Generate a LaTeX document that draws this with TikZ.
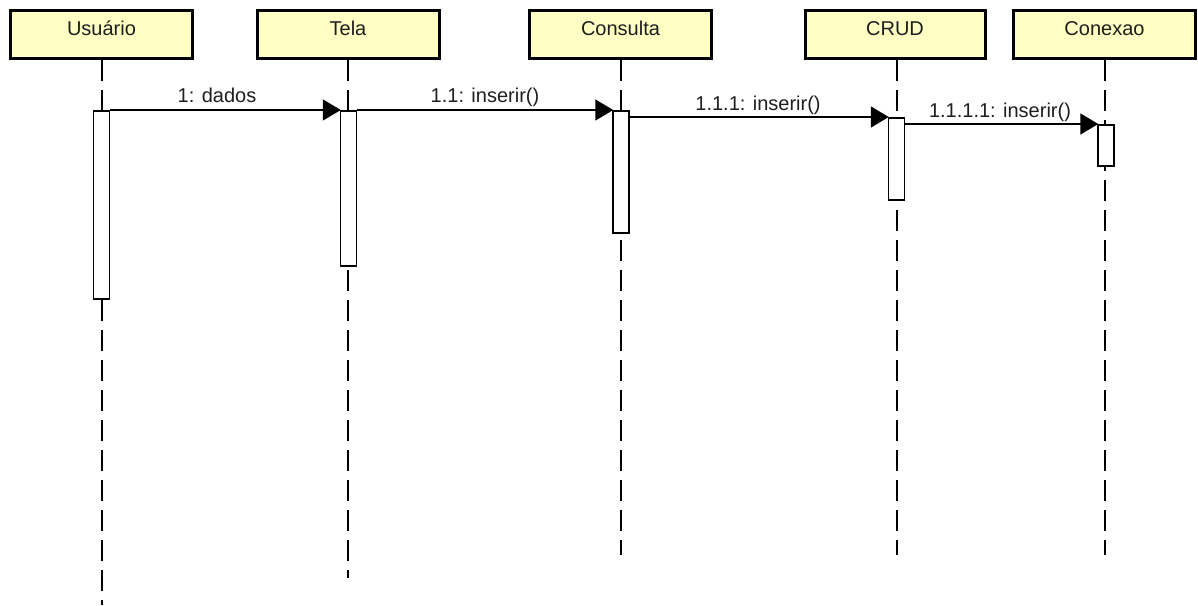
\documentclass[tikz,border=0pt]{standalone}
\usepackage{fontspec}
\setmainfont{Liberation Sans}
\usetikzlibrary{arrows.meta}
\definecolor{hdrfill}{RGB}{255,255,196}
\definecolor{txt}{RGB}{30,30,30}
\tikzset{
  hdr/.style={draw=black, line width=3pt, fill=hdrfill, minimum width=182pt, minimum height=48pt, inner sep=0pt, anchor=north},
  hdrtext/.style={font=\fontsize{20}{23}\selectfont, text=txt, anchor=base, inner sep=0pt},
  life/.style={line width=1.5pt, dash pattern=on 21pt off 9pt},
  act/.style={draw=black, line width=1.5pt, fill=white, minimum width=16pt, inner sep=0pt, anchor=north},
  msg/.style={line width=1.5pt, -{Triangle[length=18pt,width=21pt]}, shorten >=-1pt},
  msgtext/.style={font=\fontsize{20}{23}\selectfont, text=txt, anchor=base, inner sep=0pt}
}
\begin{document}
\begin{tikzpicture}[x=1pt,y=-1pt]
\useasboundingbox (0,0) rectangle (1198,605);
% header boxes
\node[hdr] (hU) at (101.5,9) {};
\node[hdr] (hT) at (348,9) {};
\node[hdr] (hC) at (620.5,9) {};
\node[hdr, minimum width=180pt] (hR) at (895,9) {};
\node[hdr] (hX) at (1104.5,9) {};
\node[hdrtext] (tU) at (101.5,35) {Usuário};
\node[hdrtext] (tT) at (348,35) {Tela};
\node[hdrtext] (tC) at (620.5,35) {Consulta};
\node[hdrtext] (tR) at (895,35) {CRUD};
\node[hdrtext] (tX) at (1104.5,35) {Conexao};
% lifeline ends
\coordinate (eU) at (102,605);
\coordinate (eT) at (348,578);
\coordinate (eC) at (621,555);
\coordinate (eR) at (897,555);
\coordinate (eX) at (1105,555);
\draw[life] (hU.south -| eU) -- (eU);
\draw[life] (hT.south -| eT) -- (eT);
\draw[life] (hC.south -| eC) -- (eC);
\draw[life] (hR.south -| eR) -- (eR);
\draw[life] (hX.south -| eX) -- (eX);
% activations
\node[act, minimum height=188pt] (aU) at (101.5,110) {};
\node[act, minimum height=155pt] (aT) at (348.5,110) {};
\node[act, minimum height=122pt] (aC) at (621,110) {};
\node[act, minimum height=82pt] (aR) at (896.5,117) {};
\node[act, minimum height=41pt] (aX) at (1106,124) {};
% messages
\draw[msg] (aU.north east) -- (aT.north west);
\draw[msg] (aT.north east) -- (aC.north west);
\draw[msg] (aC.east |- aR.north) -- (aR.north west);
\draw[msg] (aR.east |- aX.north) -- (aX.north west);
\node[msgtext] (m1) at (217,102) {1: dados};
\node[msgtext] (m2) at (485,102) {1.1: inserir()};
\node[msgtext] (m3) at (758,110) {1.1.1: inserir()};
\node[msgtext] (m4) at (1000,117) {1.1.1.1: inserir()};
\end{tikzpicture}
\end{document}
